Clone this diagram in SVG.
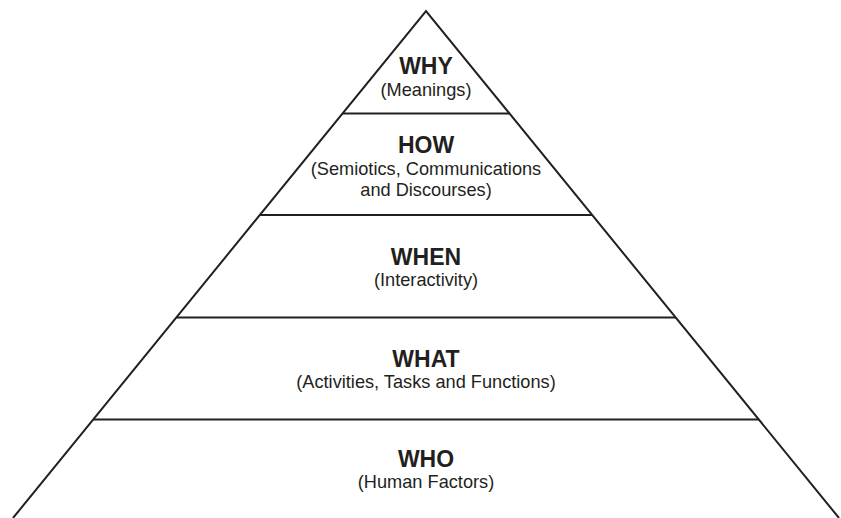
<svg xmlns="http://www.w3.org/2000/svg" width="841" height="518" viewBox="0 0 841 518">
<style>
.ln{stroke:#231f20;stroke-width:2;fill:none;stroke-linejoin:miter}
.t{font-family:"Liberation Sans",Arial,sans-serif;font-weight:bold;font-size:23px;fill:#231f20;text-anchor:middle}
.s{font-family:"Liberation Sans",Arial,sans-serif;font-size:18.2px;fill:#231f20;text-anchor:middle}
</style>
<rect width="841" height="518" fill="#ffffff"/>
<g id="connectors">
<polyline class="ln" points="13,518 426,11 839,518"/>
<line class="ln" x1="342.5" y1="113.5" x2="509.5" y2="113.5"/>
<line class="ln" x1="259.8" y1="215" x2="592.2" y2="215"/>
<line class="ln" x1="176.3" y1="317.5" x2="675.7" y2="317.5"/>
<line class="ln" x1="93.2" y1="419.5" x2="758.8" y2="419.5"/>
</g>
<g id="why">
<text class="t" x="426" y="74">WHY</text>
<text class="s" x="426" y="96">(Meanings)</text>
</g>
<g id="how">
<text class="t" x="426" y="153">HOW</text>
<text class="s" x="426" y="175">(Semiotics, Communications</text>
<text class="s" x="426" y="196">and Discourses)</text>
</g>
<g id="when">
<text class="t" x="426" y="265">WHEN</text>
<text class="s" x="426" y="286">(Interactivity)</text>
</g>
<g id="what">
<text class="t" x="426" y="367">WHAT</text>
<text class="s" x="426" y="388">(Activities, Tasks and Functions)</text>
</g>
<g id="who">
<text class="t" x="426" y="467">WHO</text>
<text class="s" x="426" y="488">(Human Factors)</text>
</g>
</svg>
